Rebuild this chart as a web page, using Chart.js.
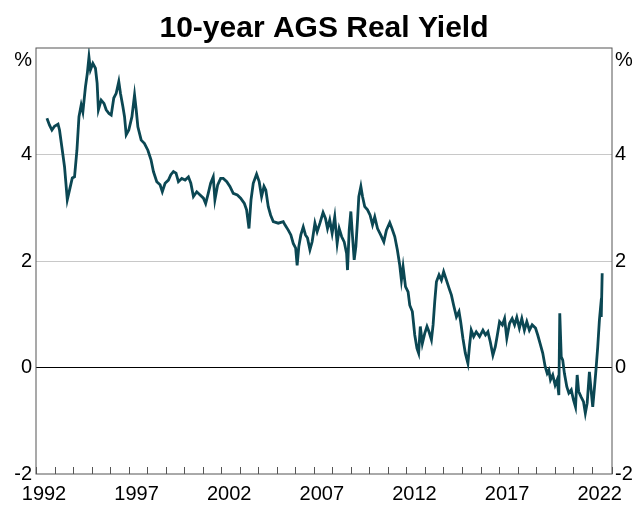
<!DOCTYPE html>
<html>
<head>
<meta charset="utf-8">
<script src="https://cdn.jsdelivr.net/npm/chart.js@4/dist/chart.umd.min.js"></script>
<style>
    html, body { margin: 0; padding: 0; background: #fff; }
    #wrap { width: 632px; height: 505px; }
</style>
</head>
<body>
<div id="wrap"><canvas id="chart" width="632" height="505"></canvas></div>
<script>
// decimal year of each reading
let dates = [
    1992.59, 1992.73, 1992.86, 1993.00, 1993.19, 1993.27, 1993.42, 1993.54, 1993.69, 1993.81,
    1993.96, 1994.08, 1994.21, 1994.32, 1994.44, 1994.53, 1994.67, 1994.77, 1994.86, 1994.94,
    1995.07, 1995.21, 1995.30, 1995.37, 1995.52, 1995.67, 1995.79, 1995.94, 1996.06, 1996.20,
    1996.33, 1996.47, 1996.56, 1996.69, 1996.78, 1996.87, 1997.01, 1997.18, 1997.32, 1997.41,
    1997.50, 1997.68, 1997.85, 1998.04, 1998.21,
    1998.34, 1998.52, 1998.70, 1998.82, 1998.97, 1999.15, 1999.28, 1999.42, 1999.56, 1999.69,
    1999.87, 2000.05, 2000.23, 2000.36, 2000.50, 2000.68, 2000.86, 2001.04, 2001.16, 2001.30,
    2001.43, 2001.57, 2001.66, 2001.81, 2001.97, 2002.11, 2002.30, 2002.47, 2002.65, 2002.87,
    2003.05, 2003.25, 2003.37, 2003.50, 2003.61, 2003.73, 2003.91, 2004.05, 2004.18, 2004.31,
    2004.41, 2004.54, 2004.67, 2004.81, 2005.08, 2005.35,
    2005.44, 2005.62, 2005.76, 2005.89, 2006.02, 2006.10, 2006.19, 2006.30, 2006.43, 2006.55,
    2006.66, 2006.79, 2006.91, 2007.06, 2007.18, 2007.33, 2007.50, 2007.63, 2007.74, 2007.86,
    2007.99, 2008.13, 2008.26, 2008.37, 2008.50, 2008.64, 2008.77, 2008.82, 2008.91, 2009.00,
    2009.09, 2009.18, 2009.27, 2009.36, 2009.43, 2009.54, 2009.63, 2009.75, 2009.90, 2010.04,
    2010.17, 2010.29, 2010.44, 2010.61, 2010.78, 2010.92, 2011.10, 2011.22, 2011.37, 2011.51,
    2011.64, 2011.73, 2011.82, 2011.95,
    2012.09, 2012.18, 2012.32, 2012.45, 2012.57, 2012.66, 2012.75, 2012.86, 2012.99, 2013.11,
    2013.22, 2013.35, 2013.44, 2013.53, 2013.62, 2013.76, 2013.89, 2014.01, 2014.16, 2014.30,
    2014.43, 2014.55, 2014.70, 2014.84, 2014.93, 2015.05, 2015.18, 2015.32, 2015.41, 2015.50,
    2015.63, 2015.77, 2015.95, 2016.13, 2016.27, 2016.40, 2016.53, 2016.67, 2016.80, 2016.91,
    2017.03, 2017.18, 2017.30, 2017.42,
    2017.57, 2017.71, 2017.84, 2017.96, 2018.10, 2018.23, 2018.37, 2018.50, 2018.64, 2018.79,
    2018.97, 2019.09, 2019.22, 2019.36, 2019.49, 2019.60, 2019.69, 2019.78, 2019.90, 2020.03,
    2020.14, 2020.23, 2020.28, 2020.36, 2020.44, 2020.53, 2020.66, 2020.77, 2020.90, 2021.02,
    2021.13, 2021.22, 2021.30, 2021.43, 2021.56, 2021.66, 2021.76, 2021.88, 2021.97, 2022.06,
    2022.15, 2022.24, 2022.33, 2022.42, 2022.47, 2022.52, 2022.57
];

// 10-year AGS real yield, per cent
let realYield = [
    4.68, 4.55, 4.46, 4.53, 4.57, 4.46, 4.08, 3.77, 3.15, 3.33,
    3.56, 3.58, 4.08, 4.71, 4.93, 4.80, 5.27, 5.52, 5.83, 5.59,
    5.71, 5.62, 5.34, 4.84, 5.02, 4.96, 4.84, 4.77, 4.74, 5.06,
    5.15, 5.37, 5.15, 4.90, 4.71, 4.37, 4.46, 4.71, 5.12, 4.84,
    4.52, 4.27, 4.21, 4.08, 3.90,
    3.68, 3.49, 3.43, 3.30, 3.46, 3.52, 3.62, 3.68, 3.65, 3.49,
    3.55, 3.52, 3.58, 3.46, 3.21, 3.30, 3.24, 3.18, 3.08, 3.27,
    3.46, 3.58, 3.15, 3.43, 3.55, 3.55, 3.49, 3.40, 3.27, 3.24,
    3.18, 3.08, 2.96, 2.61, 3.15, 3.46, 3.63, 3.49, 3.21, 3.40,
    3.33, 3.02, 2.86, 2.74, 2.71, 2.74,
    2.68, 2.58, 2.49, 2.33, 2.24, 1.92, 2.27, 2.49, 2.64, 2.49,
    2.43, 2.21, 2.36, 2.71, 2.55, 2.71, 2.91, 2.80, 2.61, 2.77,
    2.52, 2.83, 2.33, 2.61, 2.46, 2.36, 2.14, 1.83, 2.58, 2.93,
    2.46, 2.02, 2.27, 2.77, 3.21, 3.40, 3.21, 3.02, 2.96, 2.86,
    2.68, 2.83, 2.61, 2.49, 2.36, 2.58, 2.72, 2.61, 2.46, 2.21,
    1.92, 1.64, 1.89, 1.52,
    1.42, 1.17, 1.05, 0.61, 0.36, 0.27, 0.77, 0.45, 0.64, 0.77,
    0.67, 0.52, 0.80, 1.24, 1.61, 1.74, 1.64, 1.80, 1.64, 1.49,
    1.36, 1.17, 0.95, 1.05, 0.86, 0.55, 0.27, 0.08, 0.42, 0.70,
    0.58, 0.67, 0.58, 0.70, 0.61, 0.67, 0.48, 0.23, 0.39, 0.61,
    0.86, 0.80, 0.92, 0.55,
    0.83, 0.92, 0.80, 0.94, 0.74, 0.92, 0.70, 0.86, 0.70, 0.80,
    0.74, 0.61, 0.45, 0.27, 0.02, -0.11, -0.05, -0.23, -0.14, -0.33,
    -0.23, -0.52, 1.02, 0.20, 0.14, -0.11, -0.36, -0.48, -0.42, -0.61,
    -0.74, -0.14, -0.45, -0.55, -0.64, -0.86, -0.67, -0.08, -0.42, -0.74,
    -0.39, -0.02, 0.39, 0.89, 1.08, 0.95, 1.77
];

let yearLabels = [1992, 1997, 2002, 2007, 2012, 2017, 2022];
let yTickLabels = { "6": "%", "4": "4", "2": "2", "0": "0", "-2": "-2" };

let points = dates.map(function(d, i) {
    return { x: d, y: realYield[i] };
});

let fontFamily = "'Liberation Sans', Arial, sans-serif";

let yTickCallback = function(value) {
    let label = yTickLabels[String(value)];
    if (value === 6) {
        return ["", label]; // push the % sign down inside the frame
    }
    return label;
};

// frame round the plot and small yearly ticks pointing up from the bottom
let framePlugin = {
    id: "frame",
    afterDraw: function(chart) {
        let ctx = chart.ctx;
        let area = chart.chartArea;
        let xScale = chart.scales.x;
        ctx.save();
        ctx.strokeStyle = "#555";
        ctx.lineWidth = 1;
        ctx.strokeRect(area.left, area.top, area.right - area.left, area.bottom - area.top);
        xScale.ticks.forEach(function(t) {
            let px = Math.round(xScale.getPixelForValue(t.value)) + 0.5;
            ctx.beginPath();
            ctx.moveTo(px, area.bottom);
            ctx.lineTo(px, area.bottom - 7);
            ctx.stroke();
        });
        ctx.restore();
    }
};

new Chart(document.querySelector("#chart").getContext("2d"), {
    type: "line",
    data: {
        datasets: [{
            data: points,
            borderColor: "#0b4753",
            borderWidth: 2.8,
            pointRadius: 0,
            tension: 0
        }]
    },
    options: {
        responsive: false,
        animation: false,
        layout: { padding: 0 },
        plugins: {
            legend: { display: false },
            tooltip: { enabled: false },
            title: {
                display: true,
                text: "10-year AGS Real Yield",
                fullSize: false,
                color: "#000",
                font: { family: fontFamily, size: 30, weight: "bold" },
                padding: { top: 11, bottom: 1 }
            }
        },
        scales: {
            x: {
                type: "linear",
                min: 1992,
                max: 2023.1,
                grid: { drawOnChartArea: false, drawTicks: false },
                border: { display: false },
                ticks: {
                    stepSize: 1,
                    autoSkip: false,
                    maxRotation: 0,
                    minRotation: 0,
                    labelOffset: 8,
                    padding: 8,
                    color: "#000",
                    font: { family: fontFamily, size: 20 },
                    callback: function(value) {
                        return yearLabels.indexOf(value) >= 0 ? String(value) : "";
                    }
                },
                afterFit: function(scale) { scale.height = 31; }
            },
            y: {
                position: "left",
                min: -2,
                max: 6,
                grid: {
                    drawTicks: false,
                    color: function(c) {
                        if (c.tick.value === 0) return "#000";
                        if (c.tick.value === 6 || c.tick.value === -2) return "rgba(0,0,0,0)";
                        return "#c8c8c8";
                    }
                },
                border: { display: false },
                ticks: {
                    stepSize: 2,
                    padding: 4,
                    color: "#000",
                    font: { family: fontFamily, size: 20 },
                    callback: yTickCallback
                },
                afterFit: function(scale) { scale.width = 36; }
            },
            yRight: {
                position: "right",
                min: -2,
                max: 6,
                grid: { display: false, drawTicks: false },
                border: { display: false },
                ticks: {
                    stepSize: 2,
                    padding: 3,
                    color: "#000",
                    font: { family: fontFamily, size: 20 },
                    callback: yTickCallback
                },
                afterFit: function(scale) { scale.width = 20; }
            }
        }
    },
    plugins: [framePlugin]
});
</script>
</body>
</html>
